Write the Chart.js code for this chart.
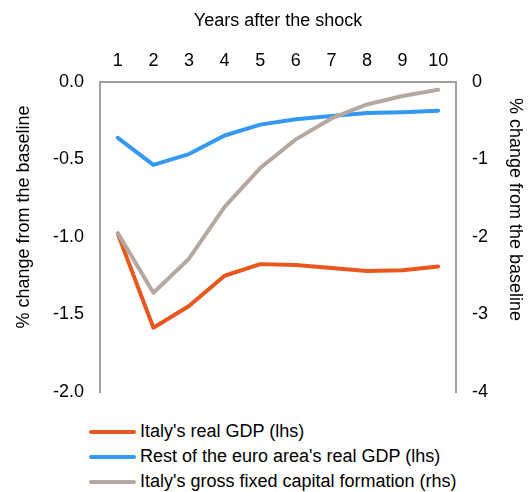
<!DOCTYPE html>
<html>
<head>
<meta charset="utf-8">
<script src="https://cdn.jsdelivr.net/npm/chart.js@4/dist/chart.umd.min.js"></script>
<style>
  body { margin: 0; background: #fff; font-family: 'Liberation Sans', Arial, sans-serif; }
  #legend { margin-top: 15px; padding-left: 89px; }
  .row { height: 25px; display: flex; align-items: center; font-size: 18px; color: #000; }
  .swatch { width: 47px; height: 4px; border-radius: 2px; margin-right: 4px; }
</style>
</head>
<body>
<canvas id="chart" width="529" height="404"></canvas>
<div id="legend"></div>
<script>
const years = ['1', '2', '3', '4', '5', '6', '7', '8', '9', '10'];
const italyGdp = [-0.98, -1.585, -1.445, -1.25, -1.175, -1.18, -1.2, -1.22, -1.215, -1.19];
const restEuroGdp = [-0.36, -0.535, -0.465, -0.345, -0.275, -0.24, -0.22, -0.2, -0.195, -0.185];
const italyGfcf = [-1.95, -2.72, -2.28, -1.61, -1.11, -0.74, -0.47, -0.29, -0.18, -0.1];

const seriesNames = [
  "Italy's real GDP (lhs)",
  "Rest of the euro area's real GDP (lhs)",
  "Italy's gross fixed capital formation (rhs)"
];
const seriesColors = ['#e9561e', '#3399f0', '#b5a8a0'];

Chart.defaults.font.family = "'Liberation Sans', Arial, sans-serif";
Chart.defaults.font.size = 18;
Chart.defaults.color = '#000';

const axisLine = { display: true, color: '#a0a0a0', width: 2 };
const noGrid = { display: false, drawTicks: false };

const line = (i, data, axis, order) => ({
  label: seriesNames[i],
  data: data,
  yAxisID: axis,
  order: order,
  borderColor: seriesColors[i],
  backgroundColor: seriesColors[i],
  borderWidth: 4,
  borderJoinStyle: 'round',
  borderCapStyle: 'round',
  pointRadius: 0,
  tension: 0
});

new Chart(document.getElementById('chart'), {
  type: 'line',
  data: {
    labels: years,
    datasets: [
      line(0, italyGdp, 'yL', 2),
      line(1, restEuroGdp, 'yL', 1),
      line(2, italyGfcf, 'yR', 0)
    ]
  },
  options: {
    responsive: false,
    animation: false,
    layout: { padding: { bottom: 12 } },
    plugins: { legend: { display: false }, tooltip: { enabled: false } },
    scales: {
      x: {
        position: 'top',
        offset: true,
        grid: { display: false, drawTicks: false, offset: true },
        border: axisLine,
        ticks: { padding: 10, maxRotation: 0 },
        title: { display: true, text: 'Years after the shock', padding: { top: 10 } },
        afterFit: s => { s.height = 82; s.paddingLeft = 0; s.paddingRight = 0; }
      },
      yL: {
        position: 'left',
        min: -2, max: 0,
        grid: noGrid,
        border: axisLine,
        ticks: { stepSize: 0.5, padding: 16, callback: v => v.toFixed(1) },
        // leading spaces lift the rotated title a little above centre
        title: { display: true, text: '        % change from the baseline', padding: { top: 13 } },
        afterFit: s => { s.width = 100; s.paddingTop = 0; s.paddingBottom = 0; }
      },
      yR: {
        position: 'right',
        min: -4, max: 0,
        grid: noGrid,
        border: axisLine,
        ticks: { stepSize: 1, padding: 16 },
        title: { display: true, text: '% change from the baseline           ', padding: { top: 3 } },
        afterFit: s => { s.width = 73; s.paddingTop = 0; s.paddingBottom = 0; }
      }
    }
  }
});

const legend = document.getElementById('legend');
seriesNames.forEach((name, i) => {
  const row = document.createElement('div');
  row.className = 'row';
  const sw = document.createElement('span');
  sw.className = 'swatch';
  sw.style.background = seriesColors[i];
  row.appendChild(sw);
  row.appendChild(document.createTextNode(name));
  legend.appendChild(row);
});
</script>
</body>
</html>
